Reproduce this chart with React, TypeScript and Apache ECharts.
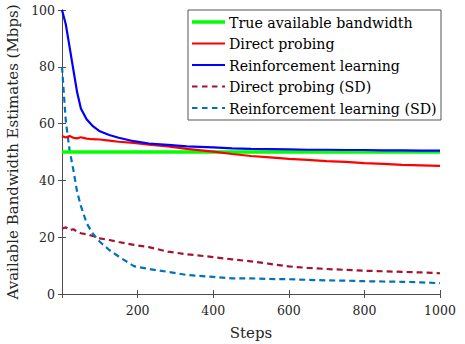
import React, { useEffect, useRef } from "react";
import * as echarts from "echarts";

const steps = [0, 10, 20, 30, 40, 50, 65, 80, 100, 125, 150, 190, 230, 280, 330, 400, 450, 500, 550, 600, 650, 700, 750, 800, 850, 900, 950, 1000];
const trueBw = steps.map(() => 50);
const directProbing = [55.6, 55.1, 55.6, 55.0, 54.8, 55.2, 54.7, 54.5, 54.4, 54.0, 53.6, 53.2, 52.6, 52.0, 51.1, 50.1, 49.3, 48.6, 48.1, 47.6, 47.2, 46.8, 46.5, 46.1, 45.8, 45.5, 45.3, 45.1];
const reinforcement = [100, 95, 87, 79, 71, 65.3, 61.5, 59.3, 57.3, 56.0, 55.0, 53.8, 53.0, 52.5, 52.0, 51.6, 51.3, 51.1, 51.0, 50.9, 50.8, 50.8, 50.7, 50.7, 50.6, 50.6, 50.5, 50.5];
const directProbingSD = [23.0, 23.5, 22.5, 22.8, 22.0, 21.4, 21.0, 20.5, 19.6, 19.0, 18.3, 17.3, 16.5, 14.9, 14.0, 13.0, 12.2, 11.5, 10.6, 9.7, 9.2, 8.8, 8.5, 8.2, 8.0, 7.8, 7.6, 7.3];
const reinforcementSD = [80, 61, 50.7, 43.7, 36, 31, 25, 21.5, 18.4, 15.5, 13.2, 9.8, 8.8, 7.8, 6.7, 6.0, 5.5, 5.5, 5.3, 5.2, 5.0, 4.8, 4.7, 4.5, 4.4, 4.3, 4.1, 3.8];

const seriesNames = [
  "True available bandwidth",
  "Direct probing",
  "Reinforcement learning",
  "Direct probing (SD)",
  "Reinforcement learning (SD)",
];
const xTicks = [0, 200, 400, 600, 800, 1000];
const yTicks = [0, 20, 40, 60, 80, 100];

const FONT = "DejaVu Serif";
const AXIS = "#4d4d4d";
const TXT = "#262626";

const styles = [
  { color: "#00ff00", width: 3.5, dash: null as number[] | null, z: 3 },
  { color: "#ff0000", width: 2.2, dash: null, z: 4 },
  { color: "#0000ff", width: 2.2, dash: null, z: 5 },
  { color: "#a2142f", width: 2.2, dash: [6, 4], z: 2 },
  { color: "#0072bd", width: 2.2, dash: [6, 4], z: 2 },
];

export default function App() {
  const ref = useRef<HTMLDivElement>(null);
  useEffect(() => {
    if (!ref.current) return;
    const chart = echarts.init(ref.current, null, { renderer: "svg" });
    const pair = (vals: number[]) => steps.map((s, i) => [s, vals[i]]);
    const values = [trueBw, directProbing, reinforcement, directProbingSD, reinforcementSD];
    const series = values.map((vals, i) => ({
      name: seriesNames[i],
      type: "line",
      data: pair(vals),
      symbol: "none",
      z: styles[i].z,
      lineStyle: { color: styles[i].color, width: styles[i].width, type: styles[i].dash || "solid" },
      itemStyle: { color: styles[i].color },
    }));
    const xMin = xTicks[0];
    const xMax = xTicks[xTicks.length - 1];
    const yMin = yTicks[0];
    const yMax = yTicks[yTicks.length - 1];
    const common = {
      axisLine: { show: true, lineStyle: { color: AXIS, width: 1 } },
      axisTick: { show: true, inside: true, length: 4, lineStyle: { color: AXIS } },
      splitLine: { show: false },
    };
    const lx = 188, ly = 10, lw = 253, lh = 110;
    const rowY = [22, 43.5, 65, 86.5, 108];
    const legendEls: any[] = [
      {
        type: "rect",
        z: 20,
        shape: { x: lx, y: ly, width: lw, height: lh },
        style: { fill: "#ffffff", stroke: "#555555", lineWidth: 1 },
      },
    ];
    seriesNames.forEach((name, i) => {
      legendEls.push({
        type: "line",
        z: 21,
        shape: { x1: 192, y1: rowY[i], x2: 225, y2: rowY[i] },
        style: {
          stroke: styles[i].color,
          lineWidth: i === 0 ? 3.5 : 2.2,
          lineDash: styles[i].dash ? [5.5, 4.5] : null,
        },
      });
      legendEls.push({
        type: "text",
        z: 21,
        x: 229,
        y: rowY[i] + 0.5,
        style: {
          text: name,
          fontFamily: FONT,
          fontSize: 14.2,
          fill: "#000",
          verticalAlign: "middle",
          align: "left",
        },
      });
    });
    chart.setOption({
      animation: false,
      backgroundColor: "#ffffff",
      grid: { left: 62, right: 25, top: 10, bottom: 50, containLabel: false, outerBoundsMode: "none" },
      xAxis: [
        {
          type: "value",
          min: xMin,
          max: xMax,
          interval: 200,
          position: "bottom",
          name: "Steps",
          nameLocation: "middle",
          nameGap: 31,
          nameTextStyle: { fontFamily: FONT, fontSize: 15, color: TXT },
          axisLabel: {
            fontFamily: FONT,
            fontSize: 12.5,
            color: TXT,
            margin: 10,
            formatter: (v: number) => (v === 0 ? "" : String(v)),
          },
          ...common,
        },
        {
          type: "value",
          min: xMin,
          max: xMax,
          interval: 200,
          position: "top",
          axisLabel: { show: false },
          ...common,
        },
      ],
      yAxis: [
        {
          type: "value",
          min: yMin,
          max: yMax,
          interval: 20,
          position: "left",
          name: "Available Bandwidth Estimates (Mbps)",
          nameLocation: "middle",
          nameGap: 36,
          nameTextStyle: { fontFamily: FONT, fontSize: 15, color: TXT },
          axisLabel: { fontFamily: FONT, fontSize: 12.5, color: TXT, margin: 7 },
          ...common,
        },
        {
          type: "value",
          min: yMin,
          max: yMax,
          interval: 20,
          position: "right",
          axisLabel: { show: false },
          ...common,
        },
      ],
      graphic: legendEls,
      series,
    });
    return () => chart.dispose();
  }, []);
  return (
    <div
      ref={ref}
      style={{ position: "fixed", left: 0, top: 0, width: 465, height: 344, background: "#fff" }}
    />
  );
}
